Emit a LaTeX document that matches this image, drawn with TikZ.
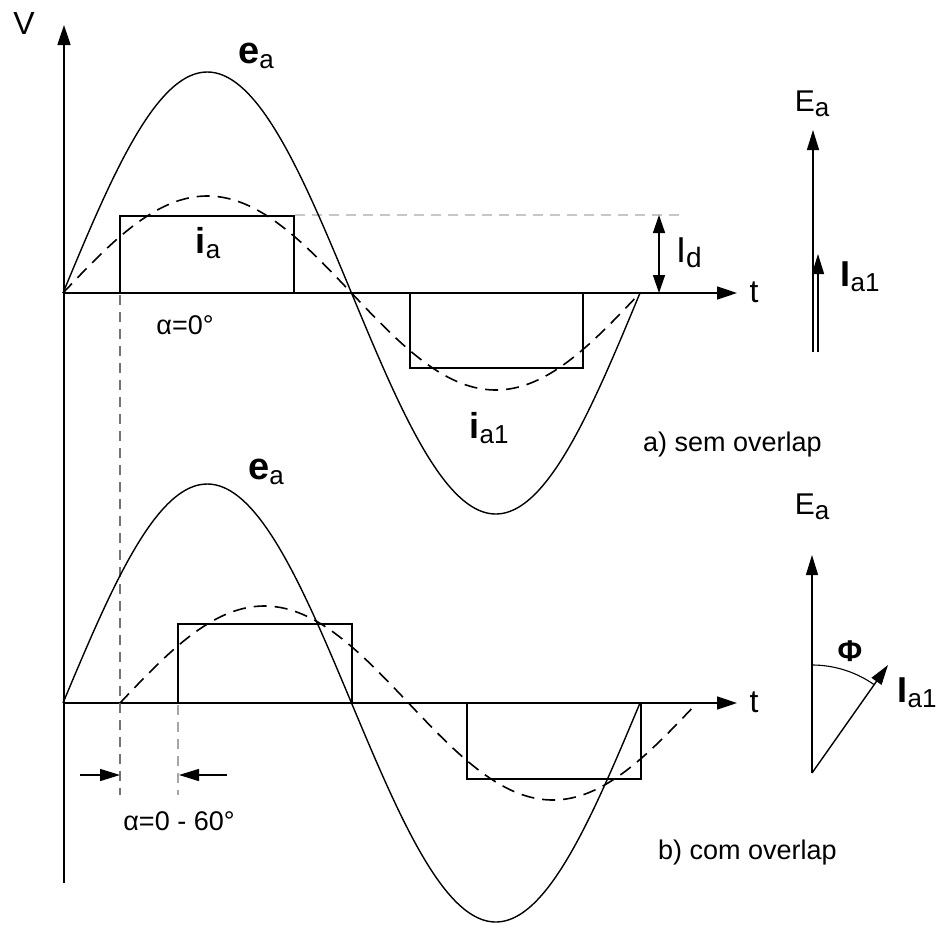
\documentclass[tikz,border=0pt]{standalone}
\usepackage{fontspec}
\setmainfont{Liberation Sans}
\usetikzlibrary{arrows.meta}
\newcommand{\subt}[2][22]{\raisebox{-5pt}{\mdseries\fontsize{#1}{#1}\selectfont #2}}
\newcommand{\fs}[1]{\fontsize{#1}{#1}\selectfont}
\begin{document}
\begin{tikzpicture}[x=1pt,y=-1pt,
  curve/.style={line width=1.4pt},
  dcurve/.style={line width=1.6pt, dash pattern=on 13pt off 8pt},
  axis/.style={line width=1.6pt, -{Triangle[length=20pt,width=13pt]}},
  rect/.style={line width=1.6pt},
  dimarr/.style={line width=1.4pt, {Triangle[length=18pt,width=12pt]}-{Triangle[length=18pt,width=12pt]}},
  onearr/.style={line width=1.4pt, -{Triangle[length=20pt,width=12pt]}},
  guide/.style={line width=1.2pt, dash pattern=on 10pt off 7pt},
  lbl/.style={inner sep=0pt, anchor=center}
]
\useasboundingbox (0,0) rectangle (937,924);
\fill[white] (0,0) rectangle (937,924);

% ---------- axes ----------
\coordinate (Vbot) at (64,883);
\coordinate (Vtop) at (64,25);
\coordinate (O1) at (63,293);
\coordinate (T1) at (737,293);
\coordinate (O2) at (63,703);
\coordinate (T2) at (737,703);
\draw[axis] (Vbot) -- (Vtop);
\draw[axis] (O1) -- (T1);
\draw[axis] (O2) -- (T2);
\node[lbl] (V) at (24,23) {\fs{32}V};
\node[lbl] (t1) at (754,292) {\fs{32}t};
\node[lbl] (t2) at (754,702) {\fs{32}t};

% ---------- guides ----------
\coordinate (g1a) at (120,295);
\coordinate (g1b) at (120,795);
\coordinate (g2a) at (178,705);
\coordinate (g2b) at (178,795);
\coordinate (h1a) at (295,215);
\coordinate (h1b) at (680,215);
\draw[guide, draw=black!55] (g1a) -- (g1b);
\draw[guide, draw=black!35] (g2a) -- (g2b);
\draw[guide, draw=black!22, line width=1.6pt] (h1a) -- (h1b);

% ---------- top plot ----------
\draw[curve] plot[domain=63:640,samples=200,smooth] (\x,{293-221*sin((\x-63)/577*360)});
\draw[dcurve] plot[domain=63:640,samples=120,smooth] (\x,{293-97*sin((\x-63)/577*360)});
\draw[rect] (120,293) -- (120,216) -- (294,216) -- (294,293);
\draw[rect] (410,293) -- (410,368) -- (583,368) -- (583,293);

\coordinate (Id1) at (659,215);
\coordinate (Id2) at (659,293);
\draw[dimarr] (Id1) -- (Id2);
\node[lbl] (Id) at (689,253) {\fs{36}I\subt[28]{d}};

\node[lbl] (ea1) at (256,56) {\fs{38}\bfseries e\subt[26]{a}};
\node[lbl] (ia) at (208,243) {\fs{36}\bfseries i\subt[26]{a}};
\node[lbl] (ia1) at (489,428) {\fs{36}\bfseries i\subt[26]{a1}};
\node[lbl] (alpha0) at (185,325) {\fs{27}α=0°};

% top phasor
\coordinate (P1) at (813,352);
\coordinate (P1E) at (813,130);
\coordinate (P1b) at (818,352);
\coordinate (P1I) at (818,254);
\draw[onearr] (P1) -- (P1E);
\draw[onearr] (P1b) -- (P1I);
\node[lbl] (Ea1) at (812,104) {\fs{30}E\subt[26]{a}};
\node[lbl] (Ia1t) at (860,277) {\fs{36}\bfseries I\subt[26]{a1}};
\node[lbl, anchor=west] (capA) at (643,445) {\fs{27}a) sem overlap};

% ---------- bottom plot ----------
\draw[curve] plot[domain=63:640,samples=200,smooth] (\x,{703-219*sin((\x-63)/577*360)});
\draw[dcurve] plot[domain=120:697,samples=120,smooth] (\x,{703-97*sin((\x-120)/577*360)});
\draw[rect] (178,703) -- (178,624) -- (352,624) -- (352,703);
\draw[rect] (467,703) -- (467,779) -- (641,779) -- (641,703);

\node[lbl] (ea2) at (266,472) {\fs{38}\bfseries e\subt[26]{a}};

\coordinate (a1s) at (80,775);
\coordinate (a1e) at (120,775);
\coordinate (a2s) at (227,775);
\coordinate (a2e) at (179,775);
\draw[onearr] (a1s) -- (a1e);
\draw[onearr] (a2s) -- (a2e);
\node[lbl] (alpha60) at (179,821) {\fs{27}α=0 - 60°};

% bottom phasor
\coordinate (P2) at (812,773);
\coordinate (P2E) at (812,555);
\coordinate (P2I) at (888,665);
\draw[onearr] (P2) -- (P2E);
\draw[onearr] (P2) -- (P2I);
\draw[line width=1.1pt] plot[domain=55:90,samples=30,smooth] ({812+108*cos(\x)},{773-108*sin(\x)});
\node[lbl] (Ea2) at (812,507) {\fs{30}E\subt[26]{a}};
\node[lbl] (Phi) at (850,651) {\fs{30}\bfseries Φ};
\node[lbl] (Ia1b) at (917,693) {\fs{36}\bfseries I\subt[26]{a1}};
\node[lbl, anchor=west] (capB) at (658,853) {\fs{27}b) com overlap};
\end{tikzpicture}
\end{document}
